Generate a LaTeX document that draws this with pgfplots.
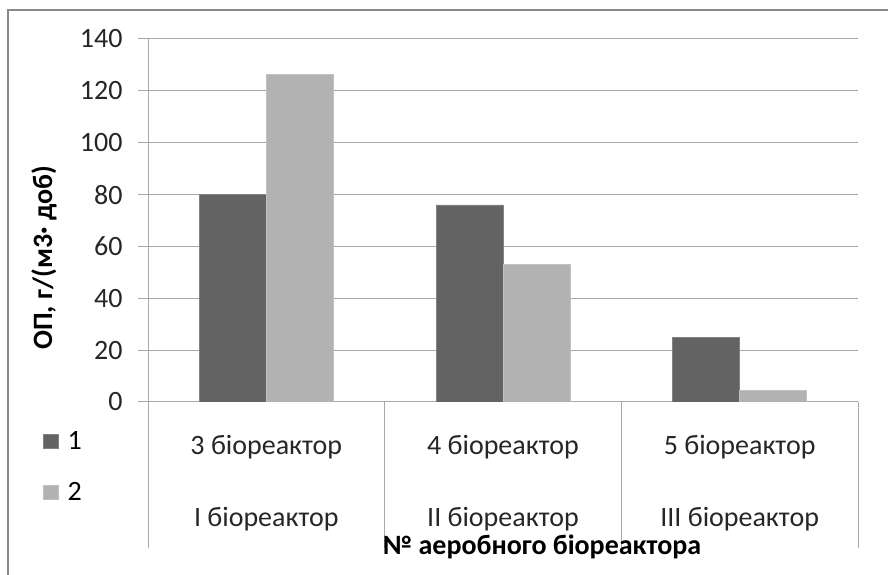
\documentclass[border=0pt]{standalone}
\usepackage{fontspec}
\setmainfont{Carlito}
\usepackage{pgfplots}
\pgfplotsset{compat=1.18}
\definecolor{darkbar}{HTML}{636363}
\definecolor{lightbar}{HTML}{B2B2B2}
\definecolor{gridcol}{HTML}{A8A8A8}
\definecolor{framecol}{HTML}{8A8A8A}
\newcommand{\tl}{\fontsize{28}{32}\selectfont}
\begin{document}
\begin{tikzpicture}[x=1pt,y=1pt]
\useasboundingbox (0,0) rectangle (888,575);
\draw[framecol, line width=2.2pt] (8,0) -- (8,565) -- (888,565);
\begin{axis}[
  at={(148pt,173pt)}, anchor=south west,
  scale only axis, width=710pt, height=363pt,
  xmin=-0.5, xmax=2.5, ymin=0, ymax=140,
  ytick={0,20,40,60,80,100,120,140},
  yticklabels={{\tl 0},{\tl 20},{\tl 40},{\tl 60},{\tl 80},{\tl 100},{\tl 120},{\tl 140}},
  ymajorgrids, grid style={gridcol, line width=1pt},
  axis x line*=bottom, axis y line*=left,
  axis line style={gridcol, line width=1pt, -},
  tick align=outside, major tick length=10pt,
  tick style={gridcol, line width=1pt},
  ybar=0pt, bar width=67pt,
  xtick={0,1,2},
  xticklabels={{3 біореактор\\I біореактор},{4 біореактор\\II біореактор},{5 біореактор\\III біореактор}},
  x tick style={draw=none},
  xticklabel style={align=center, font=\fontsize{28}{72}\selectfont, text=black!85, yshift=-20pt},
  yticklabel style={font=\tl, text=black!85, xshift=-12pt},
  extra x ticks={-0.5,0.5,1.5,2.5},
  extra x tick labels={},
  extra x tick style={major tick length=146pt, x tick style={draw=gridcol, line width=1pt}, grid=none},
  xlabel={\bfseries № аеробного біореактора},
  xlabel style={at={(axis description cs:0.555,0)}, anchor=center, yshift=-145pt, font=\tl},
  ylabel={\bfseries ОП, г/(м3· доб)},
  ylabel style={at={(axis description cs:-0.1465,0.397)}, anchor=center, font=\tl},
  legend image code/.code={\fill[#1] (0pt,-7pt) rectangle (15pt,7pt); \path (22pt,0pt);},
  legend style={draw=none, fill=none, at={(axis description cs:-0.148,-0.075)}, anchor=north west,
    font=\tl, row sep=27pt, inner sep=0pt},
  legend cell align=left,
]
\addplot[fill=darkbar, draw=darkbar!80!white] coordinates {(0,80) (1,76) (2,25)};
\addplot[fill=lightbar, draw=lightbar!80!white] coordinates {(0,126.3) (1,53) (2,4.5)};
\legend{1,2}
\end{axis}
\end{tikzpicture}
\end{document}
